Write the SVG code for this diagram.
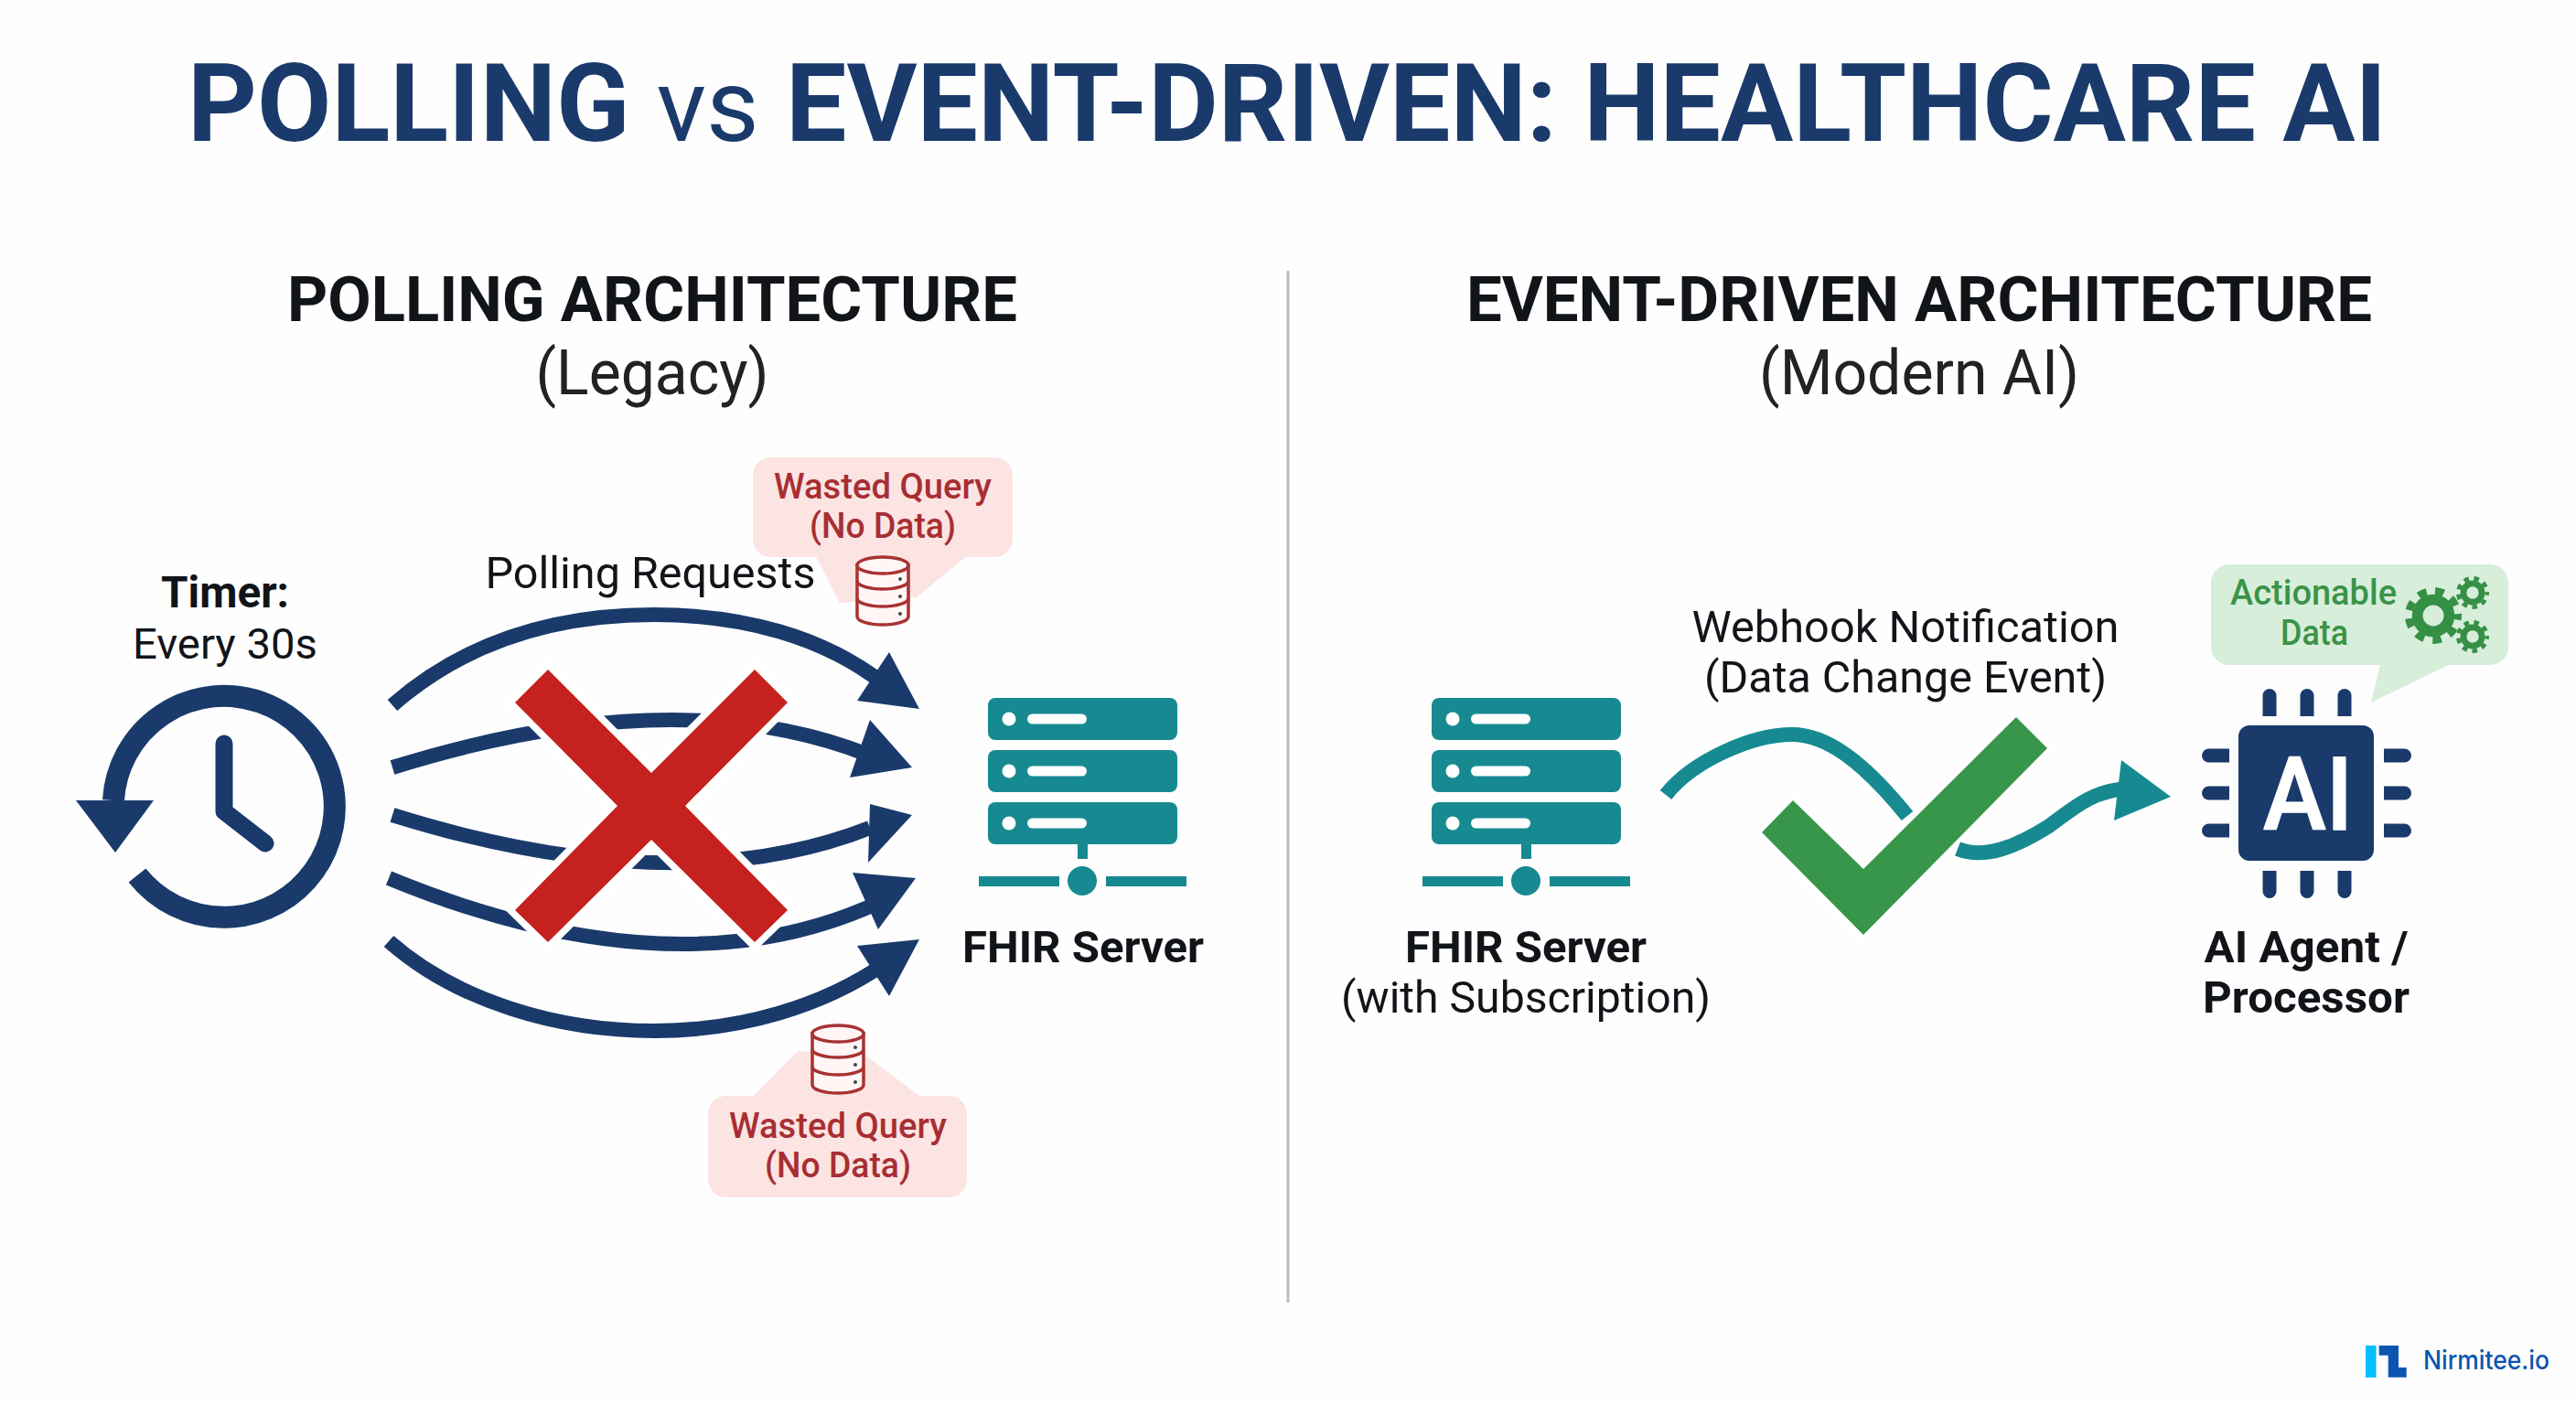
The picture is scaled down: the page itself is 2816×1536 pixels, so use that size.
<svg xmlns="http://www.w3.org/2000/svg" width="2816" height="1536" viewBox="0 0 2816 1536">
<defs>
<style>
text{font-family:Roboto,"Liberation Sans",sans-serif;text-anchor:middle;fill:#111418}
.title{font-size:118px;font-weight:700;fill:#1a3a6b}
.h{font-size:68px;font-weight:700}
.sub{font-size:69px;font-weight:400;fill:#222}
.b{font-size:49px;font-weight:700}
.r{font-size:49px;font-weight:400}
.red{font-size:38px;font-weight:500;fill:#a82e33}
.grn{font-size:38px;font-weight:500;fill:#3a9348}
.arc{fill:none;stroke:#1a3a6b;stroke-width:16}
.navy{fill:#1a3a6b}
.teal{fill:#178a91}
.tl{fill:none;stroke:#178a91;stroke-width:16}
.pink{fill:#fbe4e2}
.mint{fill:#d7eeda}
</style>
<path id="pin" class="navy" d="M-7.500 0V-22.500A7.500 7.500 0 0 1 7.500 -22.500V0Z"/>
<g id="db" fill="#fff6f5" stroke="#a83232" stroke-width="3.500">
<path d="M-28 8V64A28 9 0 0 0 28 64V8Z"/>
<ellipse cx="0" cy="8" rx="28" ry="9"/>
<path d="M-28 25A28 9 0 0 0 28 25M-28 44A28 9 0 0 0 28 44" fill="none"/>
<g fill="#444" stroke="none"><circle cx="19" cy="23" r="2"/><circle cx="19" cy="42" r="2"/><circle cx="19" cy="61" r="2"/></g>
</g>
<g id="srv">
<rect class="teal" x="0" y="0" width="207" height="46" rx="8"/>
<rect class="teal" x="0" y="57" width="207" height="46" rx="8"/>
<rect class="teal" x="0" y="114" width="207" height="46" rx="8"/>
<g fill="#fff">
<circle cx="23" cy="23" r="7.500"/><rect x="43" y="17.500" width="65" height="11" rx="5.500"/>
<circle cx="23" cy="80" r="7.500"/><rect x="43" y="74.500" width="65" height="11" rx="5.500"/>
<circle cx="23" cy="137" r="7.500"/><rect x="43" y="131.500" width="65" height="11" rx="5.500"/>
</g>
<rect class="teal" x="98" y="160" width="11" height="16"/>
<rect class="teal" x="-10" y="195" width="88" height="11"/>
<rect class="teal" x="129" y="195" width="88" height="11"/>
<circle class="teal" cx="103" cy="200" r="16"/>
</g>
<g id="gear" fill="none" stroke="#358f45">
<circle r="0.56" stroke-width="0.38"/>
<circle r="0.87" stroke-width="0.26" pathLength="16" stroke-dasharray="1 1" stroke-dashoffset="0.5"/>
</g>
</defs>
<rect width="2816" height="1536" fill="#fefefe"/>
<g id="title"><text class="title" x="1407" y="154"><tspan>POLLING</tspan> <tspan font-weight="400" font-size="112">vs</tspan> <tspan>EVENT-DRIVEN: HEALTHCARE AI</tspan></text></g>
<g id="polling-heading"><text class="h" x="713" y="351" textLength="798" lengthAdjust="spacingAndGlyphs">POLLING ARCHITECTURE</text><text class="sub" x="713" y="431" textLength="255" lengthAdjust="spacingAndGlyphs">(Legacy)</text></g>
<g id="event-heading"><text class="h" x="2098" y="351" textLength="990" lengthAdjust="spacingAndGlyphs">EVENT-DRIVEN ARCHITECTURE</text><text class="sub" x="2098" y="431" textLength="350" lengthAdjust="spacingAndGlyphs">(Modern AI)</text></g>
<line id="divider" x1="1408" y1="296" x2="1408" y2="1424" stroke="#b9bcbc" stroke-width="3"/>

<g id="timer">
<text class="b" x="246" y="664" font-size="47.500" style="font-size:47.500px" textLength="140" lengthAdjust="spacingAndGlyphs">Timer:</text><text class="r" x="246" y="720" style="font-size:47px" textLength="202" lengthAdjust="spacingAndGlyphs">Every 30s</text>
<path d="M124 875A121 121 0 1 1 150 957" fill="none" stroke="#1a3a6b" stroke-width="24"/>
<polygon class="navy" points="83,875 168,875 126,932"/>
<path d="M245 813V887L290 922" fill="none" stroke="#1a3a6b" stroke-width="19" stroke-linecap="round" stroke-linejoin="round"/>
</g>

<g id="connectors">
<path class="arc" d="M429 771C510 700 610 672 715 672C810 672 900 695 968 749"/>
<polygon class="navy" points="1005,775 972,713 937,766"/>
<path class="arc" d="M429 839Q740 742 951 826"/>
<polygon class="navy" points="997,839 951,787 929,850"/>
<path class="arc" d="M429 891Q740 988 951 905"/>
<polygon class="navy" points="997,891 951,879 949,943"/>
<path class="arc" d="M425 960Q738 1089 960 987"/>
<polygon class="navy" points="1001,960 932,954 960,1016"/>
<path class="arc" d="M425 1029C500 1095 610 1127 715 1127C810 1127 900 1100 968 1053"/>
<polygon class="navy" points="1005,1027 937,1034 972,1089"/>
<path class="tl" d="M1821 869C1850 832 1915 803 1959 803C1995 803 2035 830 2085 892"/>
<path class="tl" d="M2140 928C2170 940 2205 925 2240 903C2265 885 2285 865 2325 862"/>
<polygon class="teal" points="2373,871 2319,831 2311,897"/>
</g>

<g id="red-x"><polygon points="599,732 563,768 675,881 563,995 599,1030 712,918 825,1030 861,995 749,881 861,768 825,732 712,845" fill="#c4211f" stroke="#fff" stroke-width="15" paint-order="stroke" stroke-linejoin="miter"/></g>

<g id="green-check"><polygon points="2204,784 2238,818 2037,1022 1926,910 1960,875 2037,950" fill="#38964a" stroke="#fff" stroke-width="8" paint-order="stroke"/></g>

<g id="callout-top">
<rect class="pink" x="823" y="500" width="284" height="109" rx="20"/>
<polygon class="pink" points="890,605 918,659 1002,653 1060,605"/>
<use href="#db" x="965" y="610"/>
<text class="red" x="965" y="545" textLength="238" lengthAdjust="spacingAndGlyphs">Wasted Query</text><text class="red" x="965" y="588" textLength="160" lengthAdjust="spacingAndGlyphs">(No Data)</text>
</g>
<g id="callout-bottom">
<rect class="pink" x="774" y="1198" width="283" height="111" rx="20"/>
<polygon class="pink" points="820,1202 872,1149 948,1155 1010,1202"/>
<use href="#db" x="916" y="1122"/>
<text class="red" x="916" y="1244" textLength="238" lengthAdjust="spacingAndGlyphs">Wasted Query</text><text class="red" x="916" y="1287" textLength="160" lengthAdjust="spacingAndGlyphs">(No Data)</text>
</g>
<g id="polling-label"><text class="r" x="711" y="643" textLength="361" lengthAdjust="spacingAndGlyphs">Polling Requests</text></g>

<g id="fhir-left"><use href="#srv" x="1080" y="763"/><text class="b" x="1184" y="1052" textLength="264" lengthAdjust="spacingAndGlyphs">FHIR Server</text></g>
<g id="fhir-right"><use href="#srv" x="1565" y="763"/><text class="b" x="1668" y="1052" textLength="264" lengthAdjust="spacingAndGlyphs">FHIR Server</text><text class="r" x="1668" y="1107" textLength="404" lengthAdjust="spacingAndGlyphs">(with Subscription)</text></g>
<g id="webhook-label"><text class="r" x="2083" y="702" textLength="467" lengthAdjust="spacingAndGlyphs">Webhook Notification</text><text class="r" x="2083" y="757" textLength="440" lengthAdjust="spacingAndGlyphs">(Data Change Event)</text></g>

<g id="ai-agent">
<use href="#pin" transform="translate(2481 783)"/><use href="#pin" transform="translate(2522 783)"/><use href="#pin" transform="translate(2563 783)"/>
<use href="#pin" transform="translate(2481 952) rotate(180)"/><use href="#pin" transform="translate(2522 952) rotate(180)"/><use href="#pin" transform="translate(2563 952) rotate(180)"/>
<use href="#pin" transform="translate(2437 826) rotate(-90)"/><use href="#pin" transform="translate(2437 867) rotate(-90)"/><use href="#pin" transform="translate(2437 908) rotate(-90)"/>
<use href="#pin" transform="translate(2606 826) rotate(90)"/><use href="#pin" transform="translate(2606 867) rotate(90)"/><use href="#pin" transform="translate(2606 908) rotate(90)"/>
<rect class="navy" x="2447" y="793" width="148" height="148" rx="12"/>
<text x="2523" y="907" font-size="112" font-weight="500" textLength="98" lengthAdjust="spacingAndGlyphs" stroke="#fff" stroke-width="1.500" stroke-linejoin="round" style="fill:#fff">AI</text>
<text class="b" x="2521" y="1052" textLength="223" lengthAdjust="spacingAndGlyphs">AI Agent /</text><text class="b" x="2521" y="1107" textLength="226" lengthAdjust="spacingAndGlyphs">Processor</text>
</g>
<g id="callout-actionable">
<rect class="mint" x="2417" y="617" width="325" height="110" rx="20"/>
<polygon class="mint" points="2603,722 2592,768 2687,722"/>
<text class="grn" x="2529" y="661" textLength="182" lengthAdjust="spacingAndGlyphs">Actionable</text><text class="grn" x="2530" y="705" textLength="74" lengthAdjust="spacingAndGlyphs">Data</text>
<use href="#gear" transform="translate(2660 673) scale(31)"/>
<use href="#gear" transform="translate(2703 648) scale(18)"/>
<use href="#gear" transform="translate(2703 696) scale(18)"/>
</g>
<g id="logo">
<rect x="2586" y="1471" width="11.500" height="35" fill="#00bfff"/>
<polygon points="2600.700,1471 2622,1471 2622,1495 2630.700,1495 2630.700,1505.700 2610.700,1505.700 2610.700,1481.700 2600.700,1481.700" fill="#0b55b0"/>
<text x="2718" y="1497" font-size="28" font-weight="500" textLength="138" lengthAdjust="spacingAndGlyphs" style="font-family:Inter,Roboto,sans-serif;fill:#0b55b0">Nirmitee.io</text>
</g>
</svg>
